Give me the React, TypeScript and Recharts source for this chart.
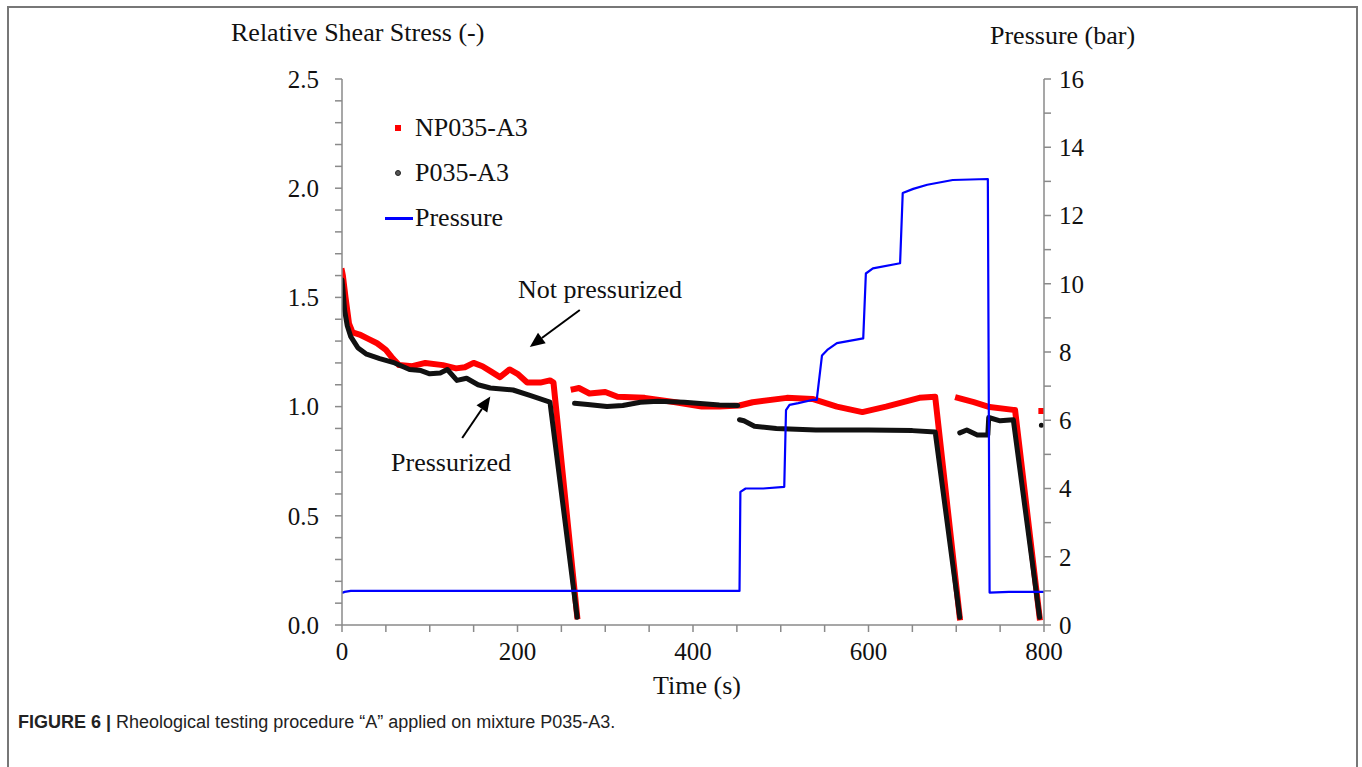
import React from 'react';
import { ComposedChart, Line, XAxis, YAxis, ReferenceLine } from 'recharts';

// NP035-A3 (not pressurized), relative shear stress; null = gap between steps
const npTime = [0, 1, 4, 8, 12, 20, 30, 40, 50, 58, 65, 80, 95, 115, 130, 140, 150, 160, 170, 180, 191, 200, 211, 226, 237, 241, 268, null,
  264, 270, 282, 300, 314, 345, 380, 410, 430, 453, 468, 507, 536, 564, 593, 620, 658, 676, 704, null,
  702, 720, 738, 765, 767, 795, null, 797];
const npStress = [1.62, 1.6, 1.5, 1.38, 1.34, 1.33, 1.31, 1.29, 1.26, 1.22, 1.19, 1.185, 1.2, 1.19, 1.175, 1.18, 1.2, 1.185, 1.16, 1.135, 1.17, 1.15, 1.11, 1.11, 1.12, 1.11, 0.04, null,
  1.08, 1.085, 1.06, 1.067, 1.045, 1.04, 1.02, 1.0, 1.0, 1.005, 1.02, 1.04, 1.035, 1.0, 0.975, 1.0, 1.04, 1.045, 0.035, null,
  1.04, 1.02, 0.998, 0.985, 0.985, 0.035, null, 0.98];

// P035-A3 (pressurized)
const pTime = [0, 1, 3, 6, 10, 18, 28, 43, 60, 77, 90, 100, 112, 120, 131, 142, 155, 169, 195, 215, 237, 268, null,
  265, 280, 302, 320, 340, 360, 390, 430, 451, null,
  453, 458, 470, 495, 540, 600, 650, 676, 704, null,
  704, 712, 724, 736, 737, 750, 765, 795, null, 797];
const pStress = [1.58, 1.54, 1.44, 1.37, 1.32, 1.27, 1.24, 1.22, 1.2, 1.17, 1.165, 1.15, 1.154, 1.17, 1.12, 1.13, 1.1, 1.085, 1.076, 1.05, 1.02, 0.035, null,
  1.015, 1.01, 1.0, 1.005, 1.02, 1.025, 1.02, 1.007, 1.005, null,
  0.94, 0.935, 0.91, 0.9, 0.893, 0.893, 0.89, 0.884, 0.035, null,
  0.88, 0.893, 0.87, 0.87, 0.95, 0.935, 0.94, 0.035, null, 0.915];

// Pressure (bar), right axis
const prTime = [0, 3, 10, 100, 200, 300, 400, 453, 454, 460, 480, 504, 506, 510, 520, 537, 541, 547, 553, 564, 594, 597, 605, 636, 639, 651, 667, 696, 736, 738, 760, 800];
const prBar = [0.94, 0.97, 1.0, 1.0, 1.0, 1.0, 1.0, 1.0, 3.9, 4.0, 4.0, 4.05, 6.3, 6.45, 6.5, 6.6, 6.6, 7.9, 8.06, 8.26, 8.4, 10.3, 10.45, 10.6, 12.66, 12.78, 12.9, 13.04, 13.07, 0.95, 0.97, 0.97];

const xTicks = [0, 50, 100, 150, 200, 250, 300, 350, 400, 450, 500, 550, 600, 650, 700, 750, 800];
const xLabels = [0, 200, 400, 600, 800];
const leftTicks = [0, 0.1, 0.2, 0.3, 0.4, 0.5, 0.6, 0.7, 0.8, 0.9, 1, 1.1, 1.2, 1.3, 1.4, 1.5, 1.6, 1.7, 1.8, 1.9, 2, 2.1, 2.2, 2.3, 2.4, 2.5];
const leftLabels = [0, 0.5, 1, 1.5, 2, 2.5];
const rightTicks = [0, 1, 2, 3, 4, 5, 6, 7, 8, 9, 10, 11, 12, 13, 14, 15, 16];
const rightLabels = [0, 2, 4, 6, 8, 10, 12, 14, 16];

const toRows = (ts: (number | null)[], vs: (number | null)[]) => ts.map((t, i) => ({ t, v: vs[i] }));
const npData = toRows(npTime, npStress);
const pData = toRows(pTime, pStress);
const prData = toRows(prTime, prBar);

const SERIF = '"Liberation Serif", "Times New Roman", serif';
const AXIS = '#8a8a8a';

const makeTick = (labels: number[], fmt: (v: number) => string, anchor: string, dy: string) => (props: any) => {
  const { x, y, payload } = props;
  const hit = labels.some((l) => Math.abs(l - payload.value) < 1e-6);
  if (!hit) return <g />;
  return (
    <text x={x} y={y} dy={dy} textAnchor={anchor} fontFamily={SERIF} fontSize={25} fill="#111">
      {fmt(payload.value)}
    </text>
  );
};

const Arrow = (props: any) => {
  const { x1, y1, x2, y2 } = props;
  const a = Math.atan2(y2 - y1, x2 - x1);
  const len = 15;
  const w = 6.5;
  const bx = x2 - len * Math.cos(a);
  const by = y2 - len * Math.sin(a);
  const px = -Math.sin(a) * w;
  const py = Math.cos(a) * w;
  return (
    <g>
      <line x1={x1} y1={y1} x2={bx} y2={by} stroke="#000" strokeWidth={2} />
      <polygon points={`${x2},${y2} ${bx + px},${by + py} ${bx - px},${by - py}`} fill="#000" />
    </g>
  );
};

const label = (text: string, left: number, cy: number, extra: React.CSSProperties = {}) => (
  <div style={{ position: 'absolute', left, top: cy - 16, lineHeight: '32px', fontFamily: SERIF, fontSize: 26, color: '#111', whiteSpace: 'nowrap', ...extra }}>
    {text}
  </div>
);

export default function App() {
  return (
    <div style={{ position: 'absolute', left: 0, top: 0, width: 1362, height: 767, background: '#fff', overflow: 'hidden' }}>
      <div style={{ position: 'absolute', left: 7, top: 6, width: 1347, height: 820, border: '2px solid #777', borderBottom: 'none' }} />
      <div style={{ position: 'absolute', left: 0, top: 0 }}>
        <ComposedChart width={1362} height={700} margin={{ top: 79, right: 238, bottom: 35, left: 262 }}>
          <XAxis
            type="number"
            dataKey="t"
            domain={[0, 800]}
            ticks={xTicks}
            interval={0}
            allowDataOverflow
            height={40}
            stroke={AXIS}
            strokeWidth={1.5}
            tickSize={7}
            tickMargin={10}
            tick={makeTick(xLabels, (v) => String(v), 'middle', '0.71em')}
          />
          <YAxis
            yAxisId="left"
            type="number"
            domain={[0, 2.5]}
            ticks={leftTicks}
            interval={0}
            width={80}
            stroke={AXIS}
            strokeWidth={1.5}
            tickSize={7}
            tickMargin={16}
            tick={makeTick(leftLabels, (v) => v.toFixed(1), 'end', '0.35em')}
          />
          <YAxis
            yAxisId="right"
            orientation="right"
            type="number"
            domain={[0, 16]}
            ticks={rightTicks}
            interval={0}
            width={80}
            stroke={AXIS}
            strokeWidth={1.5}
            tickSize={7}
            tickMargin={8}
            tick={makeTick(rightLabels, (v) => String(v), 'start', '0.35em')}
          />
          <Line yAxisId="left" data={npData} dataKey="v" stroke="#ff0000" strokeWidth={6} dot={false} connectNulls={false} isAnimationActive={false} strokeLinejoin="round" strokeLinecap="square" />
          <Line yAxisId="left" data={pData} dataKey="v" stroke="#111" strokeWidth={5} dot={false} connectNulls={false} isAnimationActive={false} strokeLinejoin="round" strokeLinecap="round" />
          <Line yAxisId="right" data={prData} dataKey="v" stroke="#0000ff" strokeWidth={2.2} dot={false} isAnimationActive={false} strokeLinejoin="round" />
          <ReferenceLine yAxisId="left" segment={[{ x: 271, y: 1.442 }, { x: 214, y: 1.273 }]} ifOverflow="visible" shape={Arrow} />
          <ReferenceLine yAxisId="left" segment={[{ x: 137, y: 0.856 }, { x: 169, y: 1.046 }]} ifOverflow="visible" shape={Arrow} />
        </ComposedChart>
      </div>

      {label('Relative Shear Stress (-)', 231, 33)}
      {label('Pressure (bar)', 990, 36)}
      {label('Time (s)', 697, 686, { transform: 'translateX(-50%)' })}
      {label('Not pressurized', 600, 290, { transform: 'translateX(-50%)' })}
      {label('Pressurized', 451, 463, { transform: 'translateX(-50%)' })}

      <div style={{ position: 'absolute', left: 395, top: 125, width: 6, height: 6, background: '#ff0000' }} />
      <div style={{ position: 'absolute', left: 395, top: 170, width: 6, height: 6, borderRadius: 3, background: '#555', boxSizing: 'border-box', border: '1px solid #222' }} />
      <div style={{ position: 'absolute', left: 385, top: 217, width: 28, height: 2.5, background: '#0000ff' }} />
      {label('NP035-A3', 415, 128)}
      {label('P035-A3', 415, 173)}
      {label('Pressure', 415, 218)}

      <div style={{ position: 'absolute', left: 18, top: 710, lineHeight: '24px', fontFamily: '"Liberation Sans", Arial, sans-serif', fontSize: 18, color: '#222', whiteSpace: 'nowrap' }}>
        <b>FIGURE 6 | </b>Rheological testing procedure “A” applied on mixture P035-A3.
      </div>
    </div>
  );
}
